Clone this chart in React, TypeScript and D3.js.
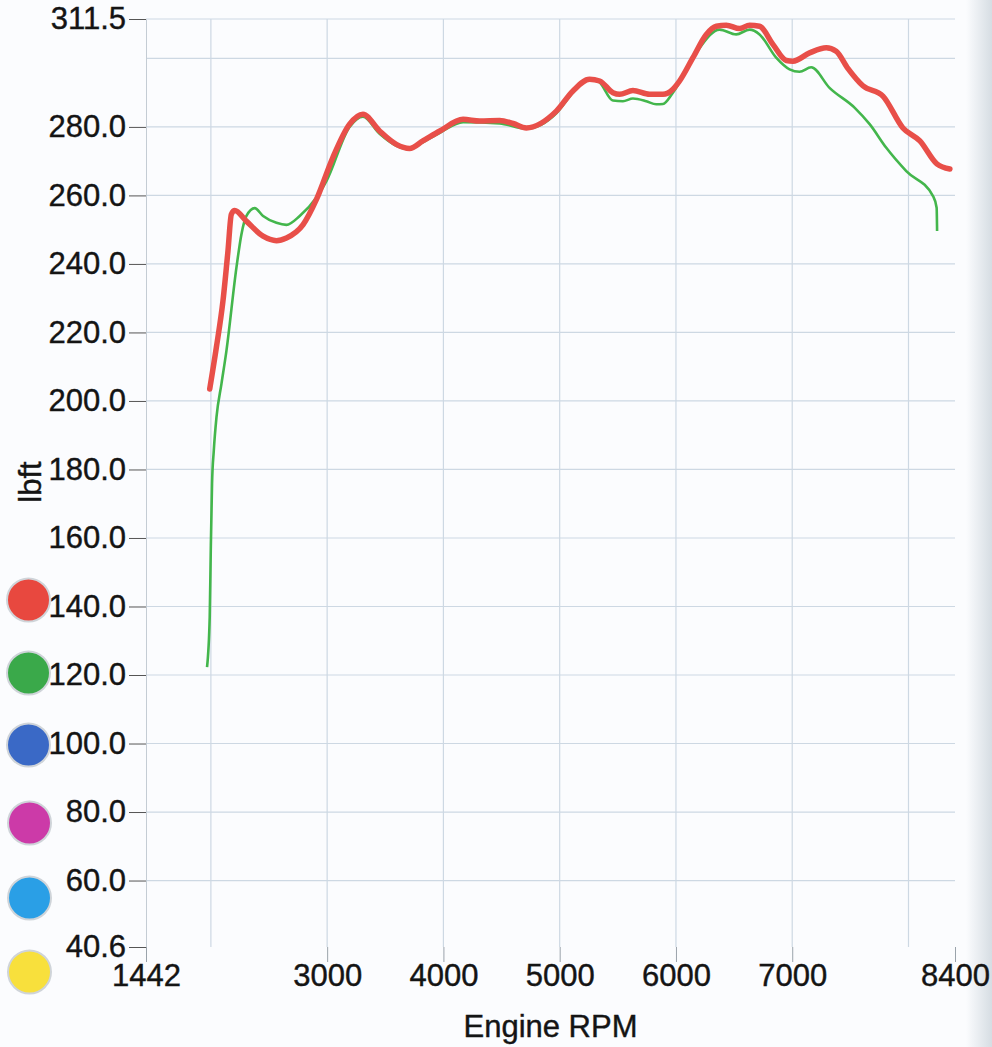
import React, { useEffect, useRef } from 'react';
import * as d3 from 'd3';

// y ticks (lbft) and x ticks (rpm) as printed on the chart
const yTickLabels = [40.6, 60, 80, 100, 120, 140, 160, 180, 200, 220, 240, 260, 280, 311.5];
const yGridValues = [60, 80, 100, 120, 140, 160, 180, 200, 220, 240, 260, 280, 300, 311.5];
const xTickLabels = [1442, 3000, 4000, 5000, 6000, 7000, 8400];
const xGridValues = [2000, 3000, 4000, 5000, 6000, 7000, 8000];

const legendColors = ['#e8483f', '#3aa94a', '#3a69c6', '#cc3aa8', '#2a9fe6', '#f8e03c'];

// red run: [rpm, lbft]
const redRpm = [1990, 2047, 2104, 2147, 2176, 2205, 2305, 2449, 2564, 2650, 2793, 2910, 3048, 3193, 3308, 3451, 3595, 3709, 3823, 3969, 4169, 4313, 4484, 4600, 4713, 4971, 5114, 5257, 5344, 5458, 5515, 5630, 5774, 5888, 5974, 6031, 6146, 6261, 6347, 6433, 6547, 6633, 6719, 6834, 6949, 7006, 7149, 7293, 7378, 7480, 7608, 7780, 7952, 8098, 8244, 8356];
const redTq = [203.5, 215.6, 229.2, 243.8, 254.5, 255.6, 252.5, 248.1, 246.8, 247.6, 251.5, 259, 271, 280.8, 283.7, 278.8, 274.9, 273.7, 275.9, 278.8, 282.2, 281.7, 281.9, 281, 279.7, 284.6, 290.5, 293.9, 293.4, 290, 289.5, 290.6, 289.5, 289.5, 291, 293.4, 300.2, 307, 309.4, 309.7, 308.7, 309.7, 309.4, 304.1, 299.4, 299.2, 301.6, 303.1, 302.1, 297, 292, 289, 279.7, 275.9, 269.2, 267.7];

// green run
const greenRpm = [1967, 1990, 1999, 2010, 2025, 2048, 2091, 2134, 2220, 2263, 2306, 2377, 2449, 2564, 2650, 2764, 2908, 2994, 3193, 3308, 3451, 3595, 3709, 3823, 3969, 4169, 4484, 4713, 4971, 5114, 5257, 5344, 5458, 5544, 5630, 5745, 5830, 5888, 5974, 6181, 6375, 6518, 6633, 6719, 6862, 6977, 7063, 7163, 7321, 7540, 7666, 7809, 7981, 8211, 8242, 8246];
const greenTq = [122.3, 136.9, 156.3, 175.8, 185.5, 195.2, 205, 214.7, 239, 248.7, 254, 256.3, 254, 252, 251.4, 254, 259.4, 264.2, 280, 283, 278, 274.5, 273.5, 275.5, 278.3, 281.4, 281, 279.5, 284, 290, 294.2, 293, 287.7, 287.5, 288.3, 287.5, 286.6, 286.7, 290, 302, 308.4, 307, 308.4, 307, 300.2, 296.8, 296.1, 297.4, 291.4, 285.5, 280.8, 273.9, 267.1, 259.8, 256.4, 249.6];

const W = 992;
const H = 1047;
const FONT = '"Liberation Sans", Arial, sans-serif';
const FS = 31;
const INK = '#141414';

export default function App() {
  const ref = useRef<SVGSVGElement>(null);

  useEffect(() => {
    const svg = d3.select(ref.current);
    svg.selectAll('*').remove();

    const x = d3.scaleLinear().domain([1442, 8400]).range([146, 955]);
    const y = d3.scaleLinear().domain([40.6, 311.5]).range([947, 19]);

    svg.append('rect').attr('width', W).attr('height', H).attr('fill', '#fbfcfe');

    // scan shadow on the right edge
    const grad = svg.append('defs').append('linearGradient').attr('id', 'edge');
    grad.append('stop').attr('offset', '0%').attr('stop-color', '#fbfcfe');
    grad.append('stop').attr('offset', '100%').attr('stop-color', '#d6dde3');
    svg.append('rect').attr('x', 966).attr('y', 0).attr('width', 26).attr('height', H).attr('fill', 'url(#edge)');

    // grid
    const grid = svg.append('g').attr('stroke', '#cdd8e3').attr('stroke-width', 1.2);
    grid.selectAll('line.h')
      .data(yGridValues)
      .join('line')
      .attr('class', 'h')
      .attr('x1', x(1442)).attr('x2', x(8400))
      .attr('y1', d => y(d)).attr('y2', d => y(d));
    grid.selectAll('line.v')
      .data(xGridValues)
      .join('line')
      .attr('class', 'v')
      .attr('x1', d => x(d)).attr('x2', d => x(d))
      .attr('y1', y(311.5)).attr('y2', y(40.6));

    // y axis
    const yAxis = d3.axisLeft(y)
      .tickValues(yTickLabels)
      .tickSize(17)
      .tickPadding(3)
      .tickFormat(d => d3.format('.1f')(d as number));
    svg.append('g')
      .attr('transform', `translate(${x(1442)},0)`)
      .call(yAxis)
      .call(g => g.select('.domain').attr('stroke', '#c4ccd4'))
      .call(g => g.selectAll('.tick line').attr('stroke', '#555'))
      .call(g => g.selectAll('.tick text')
        .attr('font-family', FONT).attr('font-size', FS).attr('fill', INK)
        .attr('stroke', INK).attr('stroke-width', 0.4));

    // x axis
    const xAxis = d3.axisBottom(x)
      .tickValues(xTickLabels)
      .tickSize(15)
      .tickSizeOuter(0)
      .tickPadding(2)
      .tickFormat(d => String(d));
    svg.append('g')
      .attr('transform', `translate(0,${y(40.6)})`)
      .call(xAxis)
      .call(g => g.select('.domain').remove())
      .call(g => g.selectAll('.tick line').attr('stroke', '#9aa3ab'))
      .call(g => g.selectAll('.tick text')
        .attr('font-family', FONT).attr('font-size', FS).attr('fill', INK)
        .attr('stroke', INK).attr('stroke-width', 0.4));

    // axis titles
    svg.append('text')
      .attr('x', (x(1442) + x(8400)) / 2).attr('y', 1037)
      .attr('text-anchor', 'middle')
      .attr('font-family', FONT).attr('font-size', FS).attr('fill', INK)
      .attr('stroke', INK).attr('stroke-width', 0.4)
      .text('Engine RPM');
    svg.append('text')
      .attr('transform', 'translate(41,482) rotate(-90)')
      .attr('text-anchor', 'middle')
      .attr('font-family', FONT).attr('font-size', FS).attr('fill', INK)
      .attr('stroke', INK).attr('stroke-width', 0.4)
      .text('lbft');

    // runs
    const greenLine = d3.line<number>()
      .x(d => x(greenRpm[d]))
      .y(d => y(greenTq[d]))
      .curve(d3.curveMonotoneX);
    const redLine = d3.line<number>()
      .x(d => x(redRpm[d]))
      .y(d => y(redTq[d]))
      .curve(d3.curveMonotoneX);

    svg.append('path')
      .attr('d', greenLine(d3.range(greenRpm.length)))
      .attr('fill', 'none')
      .attr('stroke', '#43b64c')
      .attr('stroke-width', 2.6)
      .attr('stroke-linejoin', 'round');
    svg.append('path')
      .attr('d', redLine(d3.range(redRpm.length)))
      .attr('fill', 'none')
      .attr('stroke', '#e84f49')
      .attr('stroke-width', 5.5)
      .attr('stroke-linejoin', 'round')
      .attr('stroke-linecap', 'round');

    // legend dots
    const dotY = [600, 673, 745, 823, 898, 972];
    svg.append('g')
      .selectAll('circle')
      .data(legendColors)
      .join('circle')
      .attr('cx', (d, i) => (i < 3 ? 28.5 : 29.5))
      .attr('cy', (d, i) => dotY[i])
      .attr('r', 21.5)
      .attr('fill', d => d)
      .attr('stroke', '#cfd4d9')
      .attr('stroke-width', 2);
  }, []);

  return (
    <svg
      ref={ref}
      width={W}
      height={H}
      style={{ position: 'absolute', left: 0, top: 0, display: 'block' }}
    />
  );
}
